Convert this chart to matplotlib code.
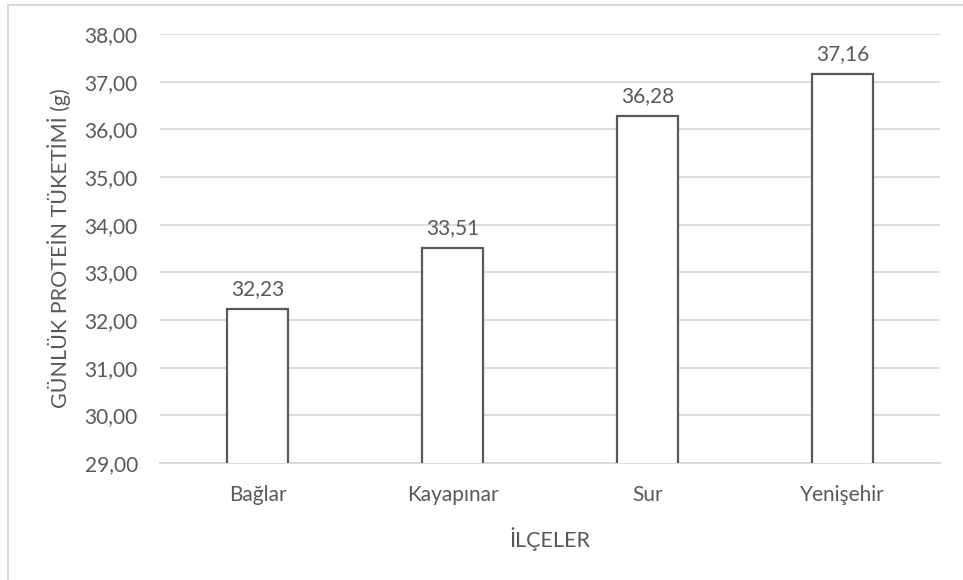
import matplotlib.pyplot as plt
from matplotlib.patches import Rectangle
from matplotlib.ticker import FuncFormatter

ilceler = ["Bağlar", "Kayapınar", "Sur", "Yenişehir"]
protein = [32.23, 33.51, 36.28, 37.16]
yticks = [29, 30, 31, 32, 33, 34, 35, 36, 37, 38]

plt.rcParams['font.family'] = ['Lato', 'DejaVu Sans']
grey = "#595959"

W, H = 963, 580
fig = plt.figure(figsize=(W / 100, H / 100), dpi=100)
ax = fig.add_axes([160 / W, 1 - 463 / H, 780 / W, 429 / H])

# chart frame (only top and left edges are inside the image)
fig.patches.append(Rectangle((8 / W, -0.1), 1.2, 1 - 5 / H + 0.1, transform=fig.transFigure,
                             fill=False, edgecolor="#d9d9d9", linewidth=1.5))

x = range(len(ilceler))
ax.bar(x, protein, width=0.31, bottom=0, color="white", edgecolor="#595959", linewidth=1.6, zorder=3)
for i, v in enumerate(protein):
    ax.text(i, v + 0.2, f"{v:.2f}".replace(".", ","), ha="center", va="bottom",
            fontsize=15, color=grey)

ax.set_xlim(-0.5, len(ilceler) - 0.5)
ax.set_ylim(29, 38)
ax.set_yticks(yticks)
ax.yaxis.set_major_formatter(FuncFormatter(lambda v, p: f"{v:.2f}".replace(".", ",")))
ax.set_xticks(list(x))
ax.set_xticklabels(ilceler)
ax.grid(axis="y", color="#d9d9d9", linewidth=1.3, zorder=0)
ax.tick_params(length=0, labelsize=15, colors=grey)
ax.tick_params(axis="y", pad=16)
ax.tick_params(axis="x", pad=16)
for s in ["top", "right", "left"]:
    ax.spines[s].set_visible(False)
ax.spines["bottom"].set_color("#d9d9d9")
ax.spines["bottom"].set_linewidth(1.3)

ax.set_xlabel("İLÇELER", fontsize=15.5, color=grey, labelpad=16)
ax.set_ylabel("GÜNLÜK PROTEİN TÜKETİMİ (g)", fontsize=15.5, color=grey, labelpad=10)

fig.savefig("out.png", dpi=100)
